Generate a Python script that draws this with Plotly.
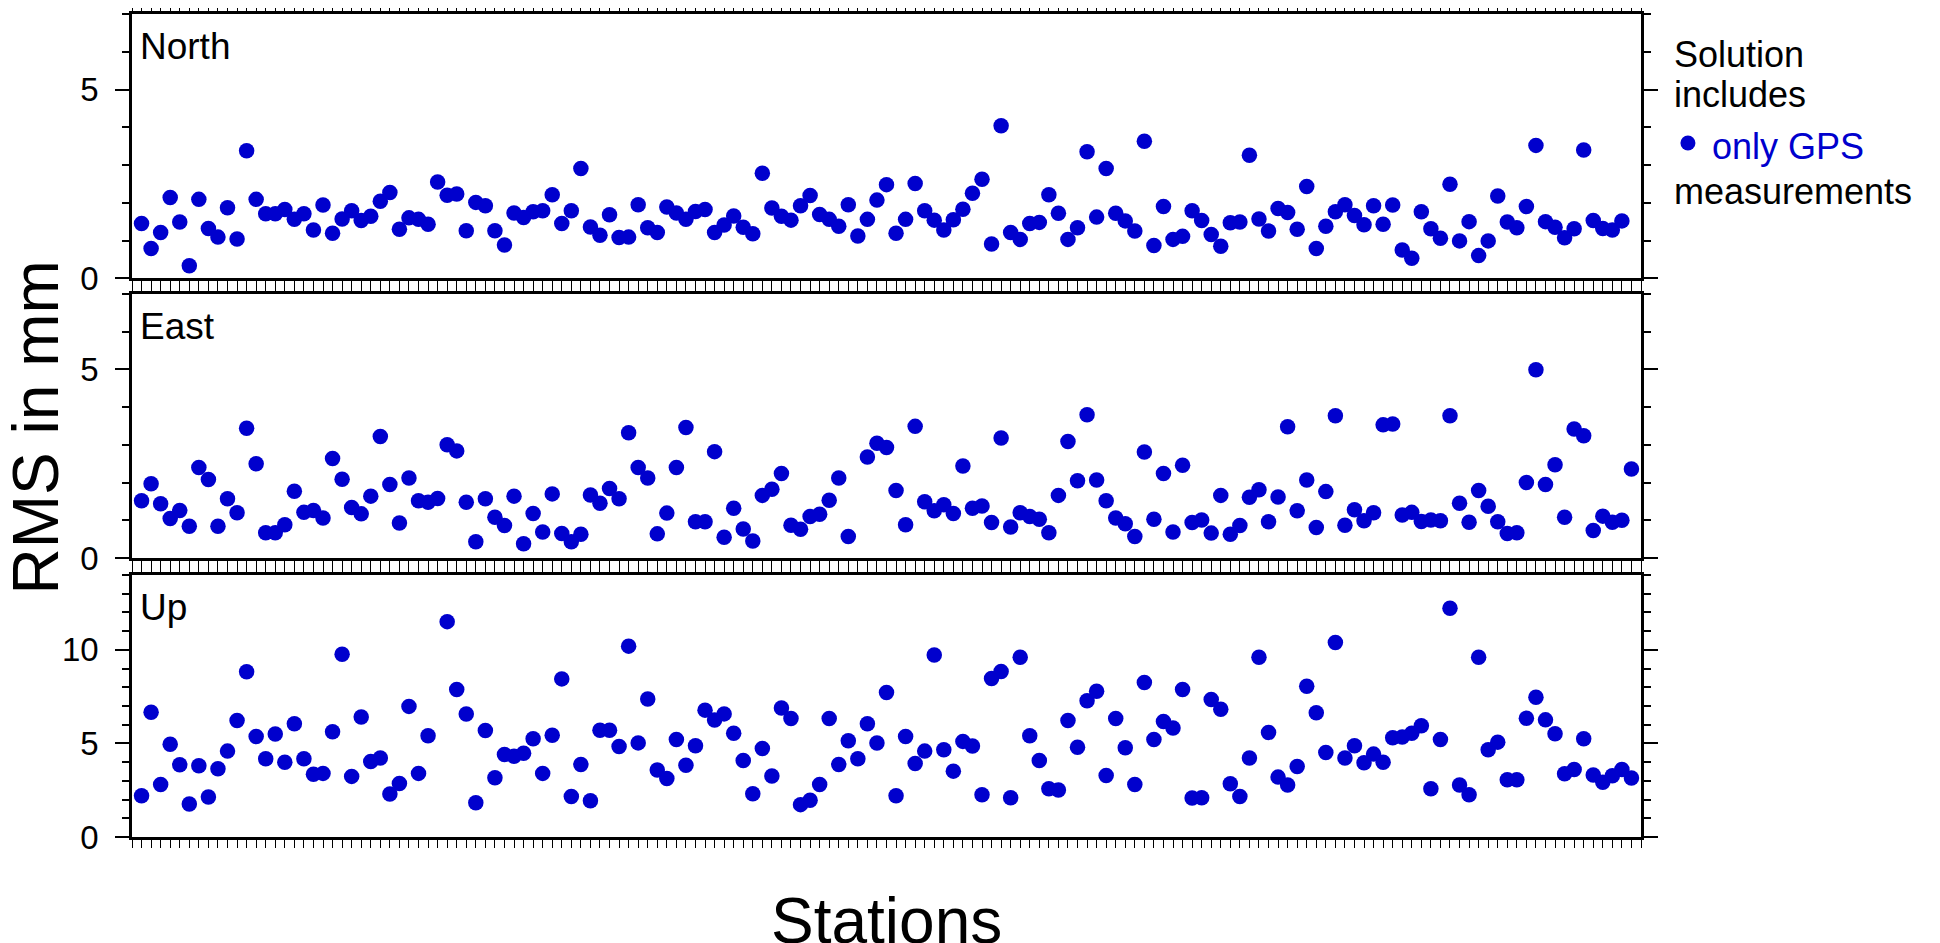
import plotly.graph_objects as go

stations = list(range(1, 158))

north = [1.45, 0.79, 1.21, 2.14, 1.49, 0.33, 2.09, 1.32, 1.09, 1.87,
         1.04, 3.38, 2.09, 1.71, 1.71, 1.82, 1.56, 1.71, 1.28, 1.94,
         1.19, 1.57, 1.79, 1.53, 1.64, 2.04, 2.27, 1.30, 1.60, 1.56,
         1.43, 2.55, 2.20, 2.23, 1.26, 2.01, 1.92, 1.26, 0.88, 1.73,
         1.61, 1.76, 1.79, 2.21, 1.45, 1.79, 2.91, 1.36, 1.14, 1.68,
         1.08, 1.09, 1.95, 1.34, 1.21, 1.89, 1.73, 1.56, 1.77, 1.82,
         1.21, 1.41, 1.65, 1.35, 1.18, 2.78, 1.86, 1.64, 1.54, 1.92,
         2.19, 1.69, 1.56, 1.38, 1.95, 1.12, 1.56, 2.07, 2.48, 1.19,
         1.56, 2.51, 1.79, 1.54, 1.28, 1.55, 1.83, 2.25, 2.62, 0.91,
         4.04, 1.21, 1.03, 1.45, 1.48, 2.21, 1.72, 1.03, 1.34, 3.35,
         1.62, 2.91, 1.72, 1.52, 1.25, 3.63, 0.87, 1.90, 1.03, 1.11,
         1.79, 1.53, 1.16, 0.85, 1.47, 1.49, 3.26, 1.57, 1.25, 1.85,
         1.74, 1.30, 2.43, 0.79, 1.38, 1.76, 1.95, 1.66, 1.42, 1.92,
         1.43, 1.94, 0.75, 0.53, 1.76, 1.31, 1.06, 2.49, 0.99, 1.50,
         0.60, 0.99, 2.18, 1.49, 1.34, 1.90, 3.52, 1.50, 1.35, 1.07,
         1.31, 3.40, 1.53, 1.32, 1.28, 1.52, None]

east = [1.52, 1.97, 1.44, 1.05, 1.26, 0.84, 2.40, 2.08, 0.84, 1.57,
        1.20, 3.44, 2.50, 0.67, 0.67, 0.88, 1.77, 1.21, 1.26, 1.06,
        2.64, 2.09, 1.34, 1.17, 1.64, 3.22, 1.95, 0.93, 2.12, 1.52,
        1.48, 1.58, 3.00, 2.84, 1.48, 0.43, 1.57, 1.08, 0.86, 1.64,
        0.38, 1.18, 0.69, 1.70, 0.65, 0.43, 0.63, 1.67, 1.45, 1.84,
        1.57, 3.32, 2.40, 2.12, 0.64, 1.19, 2.40, 3.46, 0.96, 0.96,
        2.82, 0.55, 1.32, 0.77, 0.45, 1.66, 1.82, 2.24, 0.87, 0.76,
        1.10, 1.16, 1.53, 2.12, 0.57, None, 2.68, 3.04, 2.93, 1.79,
        0.88, 3.49, 1.49, 1.25, 1.41, 1.18, 2.44, 1.32, 1.38, 0.94,
        3.18, 0.82, 1.20, 1.10, 1.03, 0.67, 1.66, 3.09, 2.05, 3.80,
        2.07, 1.52, 1.06, 0.91, 0.57, 2.81, 1.03, 2.24, 0.69, 2.46,
        0.94, 1.01, 0.66, 1.66, 0.63, 0.86, 1.61, 1.81, 0.96, 1.62,
        3.48, 1.25, 2.07, 0.81, 1.76, 3.77, 0.87, 1.28, 0.99, 1.20,
        3.53, 3.55, 1.14, 1.21, 0.97, 1.01, 0.99, 3.77, 1.45, 0.95,
        1.79, 1.37, 0.96, 0.65, 0.67, 2.00, 4.99, 1.95, 2.47, 1.08,
        3.42, 3.24, 0.73, 1.11, 0.95, 1.00, 2.36]

up = [2.21, 6.67, 2.81, 4.96, 3.86, 1.76, 3.81, 2.14, 3.65, 4.59,
      6.23, 8.83, 5.37, 4.18, 5.50, 4.00, 6.05, 4.18, 3.35, 3.40,
      5.62, 9.77, 3.24, 6.41, 4.04, 4.22, 2.30, 2.86, 6.98, 3.40,
      5.41, None, 11.51, 7.88, 6.57, 1.83, 5.69, 3.17, 4.41, 4.31,
      4.48, 5.25, 3.40, 5.44, 8.45, 2.17, 3.88, 1.94, 5.71, 5.71,
      4.84, 10.20, 5.03, 7.38, 3.58, 3.13, 5.21, 3.84, 4.88, 6.78,
      6.25, 6.58, 5.55, 4.09, 2.31, 4.73, 3.26, 6.89, 6.33, 1.73,
      1.96, 2.81, 6.33, 3.88, 5.14, 4.18, 6.05, 5.02, 7.72, 2.21,
      5.37, 3.93, 4.59, 9.73, 4.66, 3.52, 5.11, 4.86, 2.26, 8.47,
      8.84, 2.10, 9.61, 5.41, 4.09, 2.58, 2.51, 6.23, 4.80, 7.28,
      7.79, 3.29, 6.33, 4.77, 2.81, 8.26, 5.21, 6.17, 5.82, 7.88,
      2.08, 2.10, 7.35, 6.83, 2.85, 2.17, 4.22, 9.61, 5.59, 3.20,
      2.78, 3.77, 8.06, 6.64, 4.52, 10.39, 4.22, 4.88, 3.97, 4.43,
      4.00, 5.30, 5.34, 5.55, 5.94, 2.58, 5.21, 12.22, 2.78, 2.26,
      9.61, 4.66, 5.07, 3.06, 3.06, 6.35, 7.47, 6.26, 5.52, 3.38,
      3.61, 5.25, 3.31, 2.92, 3.27, 3.61, 3.15]

panel_names = ["North", "East", "Up"]
y_max = [7, 7, 14]
y_major = [5, 5, 5]

BLUE = "#0000CD"
FONT = "Liberation Sans, Arial, Helvetica, sans-serif"

fig = go.Figure()
series = [north, east, up]
for k, vals in enumerate(series):
    sfx = "" if k == 0 else str(k + 1)
    fig.add_trace(go.Scatter(
        x=stations, y=vals, mode="markers",
        marker=dict(color=BLUE, size=15.5, line=dict(width=0)),
        xaxis="x" + sfx, yaxis="y" + sfx, showlegend=False,
        hovertemplate="%{y}<extra>" + panel_names[k] + "</extra>"))

domains = [[0.6789, 1.0], [0.339, 0.6598], [0.0, 0.3183]]

xax = dict(range=[0, len(stations) + 1], showticklabels=False,
           ticks="outside", tickmode="linear", tick0=0, dtick=1,
           ticklen=8, tickwidth=1.2, tickcolor="black",
           showline=True, linewidth=2.5, linecolor="black",
           mirror="allticks", showgrid=False, zeroline=False,
           automargin=False)

layout_axes = {}
for k in range(3):
    sfx = "" if k == 0 else str(k + 1)
    xa = dict(xax)
    xa["anchor"] = "y" + sfx
    xa["domain"] = [0, 1]
    if k > 0:
        xa["matches"] = "x"
    layout_axes["xaxis" + sfx] = xa
    layout_axes["yaxis" + sfx] = dict(
        domain=domains[k], anchor="x" + sfx, range=[0, y_max[k]],
        tickmode="linear", tick0=0, dtick=y_major[k],
        ticks="outside", ticklen=14, tickwidth=1.5, tickcolor="black",
        ticklabelstandoff=10,
        minor=dict(ticks="outside", dtick=1, tick0=0, ticklen=7,
                   tickwidth=1.5, tickcolor="black", showgrid=False),
        showline=True, linewidth=2.5, linecolor="black",
        mirror="allticks", showgrid=False, zeroline=False,
        automargin=False,
        tickfont=dict(family=FONT, size=33, color="black"))

fig.update_layout(**layout_axes)

annotations = []
for k, name in enumerate(panel_names):
    sfx = "" if k == 0 else str(k + 1)
    annotations.append(dict(
        text=name, xref="x" + sfx + " domain", yref="y" + sfx + " domain",
        x=0, y=1, xanchor="left", yanchor="top", xshift=6, yshift=-10,
        showarrow=False, font=dict(family=FONT, size=37, color="black")))

annotations += [
    dict(text="RMS in mm", xref="paper", yref="paper", x=-0.0633, y=0.4982,
         textangle=-90, showarrow=False, xanchor="center", yanchor="middle",
         font=dict(family=FONT, size=64, color="black")),
    dict(text="Stations", xref="paper", yref="paper", x=0.5, y=-0.102,
         showarrow=False, xanchor="center", yanchor="middle",
         font=dict(family=FONT, size=64, color="black")),
    dict(text="Solution", xref="paper", yref="paper", x=1.0206, y=0.9506,
         showarrow=False, xanchor="left", yanchor="middle",
         font=dict(family=FONT, size=36, color="black")),
    dict(text="includes", xref="paper", yref="paper", x=1.0206, y=0.9020,
         showarrow=False, xanchor="left", yanchor="middle",
         font=dict(family=FONT, size=36, color="black")),
    dict(text="only GPS", xref="paper", yref="paper", x=1.0457, y=0.8392,
         showarrow=False, xanchor="left", yanchor="middle",
         font=dict(family=FONT, size=36, color=BLUE)),
    dict(text="measurements", xref="paper", yref="paper", x=1.0206, y=0.7849,
         showarrow=False, xanchor="left", yanchor="middle",
         font=dict(family=FONT, size=36, color="black")),
]

shapes = [dict(type="circle", xref="paper", yref="paper",
               xsizemode="pixel", ysizemode="pixel",
               xanchor=1.0311, yanchor=0.8433,
               x0=-7.5, x1=7.5, y0=-7.5, y1=7.5,
               fillcolor=BLUE, line=dict(width=0))]

fig.update_layout(
    width=1932, height=935,
    margin=dict(l=124, r=299, t=6, b=106, pad=0, autoexpand=False),
    paper_bgcolor="white", plot_bgcolor="white",
    font=dict(family=FONT, color="black"),
    annotations=annotations, shapes=shapes,
    showlegend=False)

fig.write_html("out.html")
